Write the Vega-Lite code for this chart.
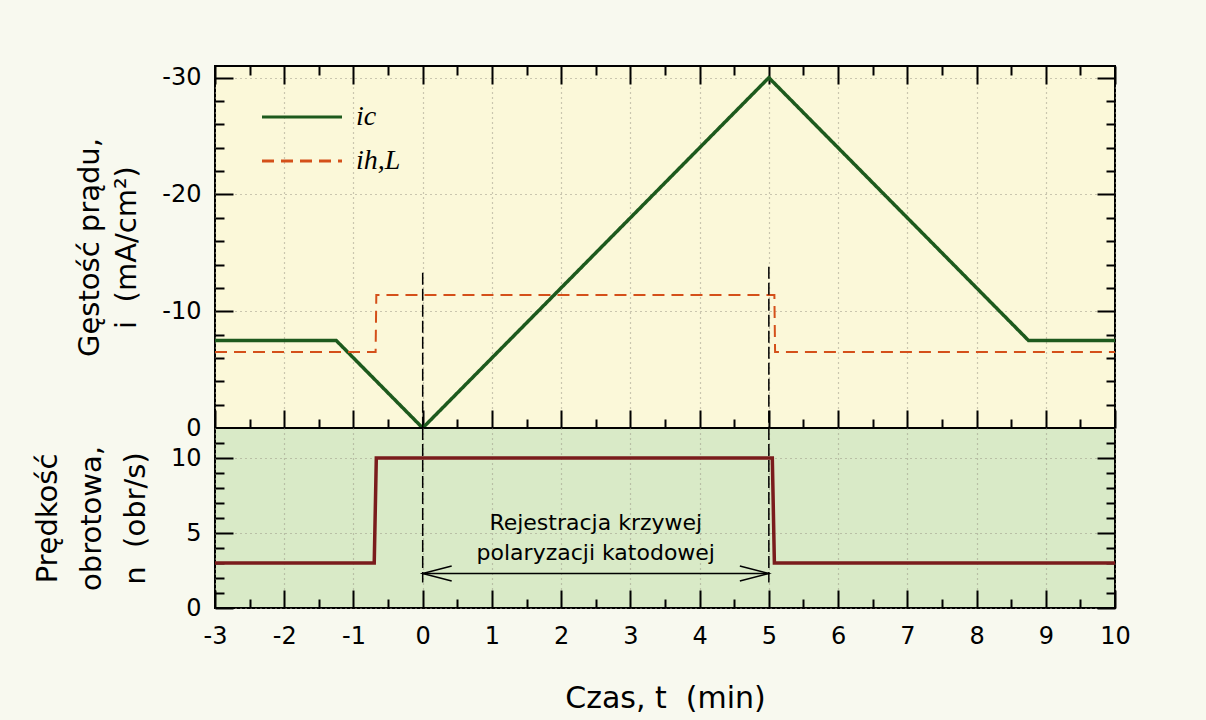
{
  "$schema": "https://vega.github.io/schema/vega-lite/v6.json",
  "background": "#f8f9ef",
  "padding": {"left": 32, "top": 64, "right": 100, "bottom": 10},
  "spacing": 0,
  "bounds": "flush",
  "datasets": {
    "cur": [
      {"t": -3, "i": -7.5, "s": "ic", "k": 1},
      {"t": -1.25, "i": -7.5, "s": "ic", "k": 2},
      {"t": 0, "i": 0, "s": "ic", "k": 3},
      {"t": 5, "i": -30, "s": "ic", "k": 4},
      {"t": 8.75, "i": -7.5, "s": "ic", "k": 5},
      {"t": 10, "i": -7.5, "s": "ic", "k": 6},
      {"t": -3, "i": -6.5, "s": "ih,L", "k": 1},
      {"t": -0.68, "i": -6.5, "s": "ih,L", "k": 2},
      {"t": -0.67, "i": -11.4, "s": "ih,L", "k": 3},
      {"t": 5.08, "i": -11.4, "s": "ih,L", "k": 4},
      {"t": 5.09, "i": -6.5, "s": "ih,L", "k": 5},
      {"t": 10, "i": -6.5, "s": "ih,L", "k": 6}
    ],
    "rot": [
      {"t": -3, "n": 3.0, "k": 1},
      {"t": -0.7, "n": 3.0, "k": 2},
      {"t": -0.67, "n": 10, "k": 3},
      {"t": 5.05, "n": 10, "k": 4},
      {"t": 5.08, "n": 3.0, "k": 5},
      {"t": 10, "n": 3.0, "k": 6}
    ],
    "vt": [
      {"t": 0, "a": -13.3, "b": 0},
      {"t": 5, "a": -13.8, "b": 0}
    ],
    "vb": [
      {"t": 0, "a": 12, "b": 1.7},
      {"t": 5, "a": 12, "b": 1.7}
    ],
    "arrow": [{"t": 0, "t2": 5, "n": 2.3}],
    "heads": [
      {"t": 0, "n": 2.3, "dir": "L"},
      {"t": 5, "n": 2.3, "dir": "R"}
    ],
    "ann": [
      {"t": 2.5, "n": 5.66, "txt": "Rejestracja krzywej"},
      {"t": 2.5, "n": 3.67, "txt": "polaryzacji katodowej"}
    ]
  },
  "resolve": {
    "scale": {"x": "independent", "y": "independent", "color": "independent", "strokeDash": "independent"},
    "legend": {"color": "independent", "strokeDash": "independent"}
  },
  "vconcat": [
    {
      "width": 900,
      "height": 362,
      "view": {"fill": "#fbf8d9", "stroke": "#000000", "strokeWidth": 2},
      "resolve": {"axis": {"x": "independent", "y": "independent"}},
      "layer": [
        {
          "data": {"name": "cur"},
          "mark": {"type": "line", "clip": true},
          "encoding": {
            "x": {"field": "t", "type": "quantitative",
              "scale": {"domain": [-3, 10], "nice": false, "zero": false},
              "axis": {"orient": "bottom", "values": [-3,-2,-1,0,1,2,3,4,5,6,7,8,9,10], "labels": false, "tickSize": -18, "grid": true, "title": null}},
            "y": {"field": "i", "type": "quantitative",
              "scale": {"domain": [-31, 0], "nice": false, "zero": false, "reverse": true},
              "axis": {"orient": "left", "values": [-30, -20, -10, 0], "ticks": false, "grid": true, "labelPadding": 14, "labelExpr": "'' + datum.value",
                "title": ["Gęstość prądu,", "i\u00a0\u00a0(mA/cm²)"], "titlePadding": 20, "titleLineHeight": 37}},
            "order": {"field": "k", "type": "quantitative"},
            "color": {"field": "s", "type": "nominal",
              "scale": {"domain": ["ic", "ih,L"], "range": ["#1d5a1d", "#d4501a"]},
              "legend": {"orient": "top-left", "offset": 37, "padding": 0, "title": null,
                "symbolType": "M-0.4,0H7.6", "symbolSize": 400, "symbolStrokeWidth": 3,
                "labelFont": "Liberation Serif", "labelFontStyle": "italic", "labelFontSize": 28,
                "labelOffset": 76, "rowPadding": 16, "labelColor": "#000000"}},
            "strokeDash": {"field": "s", "type": "nominal",
              "scale": {"domain": ["ic", "ih,L"], "range": [[1, 0], [12, 7]]},
              "legend": {"orient": "top-left", "offset": 37, "padding": 0, "title": null,
                "symbolType": "M-0.4,0H7.6", "symbolSize": 400, "symbolStrokeWidth": 3,
                "labelFont": "Liberation Serif", "labelFontStyle": "italic", "labelFontSize": 28,
                "labelOffset": 76, "rowPadding": 16, "labelColor": "#000000"}},
            "strokeWidth": {"condition": {"test": "datum.s == 'ic'", "value": 3.5}, "value": 2}
          }
        },
        {
          "data": {"name": "cur"},
          "mark": {"type": "point", "opacity": 0},
          "encoding": {
            "x": {"field": "t", "type": "quantitative",
              "scale": {"domain": [-3, 10], "nice": false, "zero": false},
              "axis": {"orient": "bottom", "values": [-2.5,-1.5,-0.5,0.5,1.5,2.5,3.5,4.5,5.5,6.5,7.5,8.5,9.5], "labels": false, "tickSize": -9, "grid": false, "title": null}},
            "y": {"field": "i", "type": "quantitative",
              "scale": {"domain": [-31, 0], "nice": false, "zero": false, "reverse": true},
              "axis": {"orient": "left", "values": [-30, -20, -10, 0], "labels": false, "tickSize": -18, "grid": false, "title": null}}
          }
        },
        {
          "data": {"name": "cur"},
          "mark": {"type": "point", "opacity": 0},
          "encoding": {
            "x": {"field": "t", "type": "quantitative",
              "scale": {"domain": [-3, 10], "nice": false, "zero": false},
              "axis": {"orient": "top", "values": [-3,-2,-1,0,1,2,3,4,5,6,7,8,9,10], "labels": false, "tickSize": -18, "grid": false, "title": null}},
            "y": {"field": "i", "type": "quantitative",
              "scale": {"domain": [-31, 0], "nice": false, "zero": false, "reverse": true},
              "axis": {"orient": "left", "values": [-28, -26, -24, -22, -18, -16, -14, -12, -8, -6, -4, -2], "labels": false, "tickSize": -9, "grid": false, "title": null}}
          }
        },
        {
          "data": {"name": "cur"},
          "mark": {"type": "point", "opacity": 0},
          "encoding": {
            "x": {"field": "t", "type": "quantitative",
              "scale": {"domain": [-3, 10], "nice": false, "zero": false},
              "axis": {"orient": "top", "values": [-2.5,-1.5,-0.5,0.5,1.5,2.5,3.5,4.5,5.5,6.5,7.5,8.5,9.5], "labels": false, "tickSize": -9, "grid": false, "title": null}},
            "y": {"field": "i", "type": "quantitative",
              "scale": {"domain": [-31, 0], "nice": false, "zero": false, "reverse": true},
              "axis": {"orient": "right", "values": [-30, -20, -10, 0], "labels": false, "tickSize": -18, "grid": false, "title": null}}
          }
        },
        {
          "data": {"name": "vt"},
          "mark": {"type": "rule", "color": "#000000", "strokeWidth": 1.5, "strokeDash": [12, 4]},
          "encoding": {
            "x": {"field": "t", "type": "quantitative",
              "scale": {"domain": [-3, 10], "nice": false, "zero": false}, "axis": null},
            "y": {"field": "a", "type": "quantitative",
              "scale": {"domain": [-31, 0], "nice": false, "zero": false, "reverse": true},
              "axis": {"orient": "right", "values": [-28, -26, -24, -22, -18, -16, -14, -12, -8, -6, -4, -2], "labels": false, "tickSize": -9, "grid": false, "title": null}},
            "y2": {"field": "b"}
          }
        }
      ]
    },
    {
      "width": 900,
      "height": 180,
      "view": {"fill": "#d9eac7", "stroke": "#000000", "strokeWidth": 2},
      "resolve": {"axis": {"x": "independent", "y": "independent"}},
      "layer": [
        {
          "data": {"name": "rot"},
          "mark": {"type": "line", "color": "#7a1c1c", "strokeWidth": 3.5},
          "encoding": {
            "x": {"field": "t", "type": "quantitative",
              "scale": {"domain": [-3, 10], "nice": false, "zero": false},
              "axis": {"orient": "bottom", "values": [-3,-2,-1,0,1,2,3,4,5,6,7,8,9,10], "ticks": false, "grid": true, "labelPadding": 16, "labelFlush": false, "labelOverlap": false, "labelExpr": "'' + datum.value",
                "title": "Czas, t\u00a0\u00a0(min)", "titlePadding": 35, "titleFontSize": 30}},
            "y": {"field": "n", "type": "quantitative",
              "scale": {"domain": [0, 12], "nice": false, "zero": false},
              "axis": {"orient": "left", "values": [0, 5, 10], "ticks": false, "grid": true, "labelPadding": 14,
                "title": ["Prędkość", "obrotowa,", "n\u00a0\u00a0(obr/s)"], "titlePadding": 20, "titleLineHeight": 44}},
            "order": {"field": "k", "type": "quantitative"}
          }
        },
        {
          "data": {"name": "rot"},
          "mark": {"type": "point", "opacity": 0},
          "encoding": {
            "x": {"field": "t", "type": "quantitative",
              "scale": {"domain": [-3, 10], "nice": false, "zero": false},
              "axis": {"orient": "bottom", "values": [-3,-2,-1,0,1,2,3,4,5,6,7,8,9,10], "labels": false, "tickSize": -18, "grid": false, "title": null}},
            "y": {"field": "n", "type": "quantitative",
              "scale": {"domain": [0, 12], "nice": false, "zero": false},
              "axis": {"orient": "left", "values": [0, 5, 10], "labels": false, "tickSize": -18, "grid": false, "title": null}}
          }
        },
        {
          "data": {"name": "rot"},
          "mark": {"type": "point", "opacity": 0},
          "encoding": {
            "x": {"field": "t", "type": "quantitative",
              "scale": {"domain": [-3, 10], "nice": false, "zero": false},
              "axis": {"orient": "bottom", "values": [-2.5,-1.5,-0.5,0.5,1.5,2.5,3.5,4.5,5.5,6.5,7.5,8.5,9.5], "labels": false, "tickSize": -9, "grid": false, "title": null}},
            "y": {"field": "n", "type": "quantitative",
              "scale": {"domain": [0, 12], "nice": false, "zero": false},
              "axis": {"orient": "left", "values": [1, 2, 3, 4, 6, 7, 8, 9, 11], "labels": false, "tickSize": -9, "grid": false, "title": null}}
          }
        },
        {
          "data": {"name": "vb"},
          "mark": {"type": "rule", "color": "#000000", "strokeWidth": 1.5, "strokeDash": [12, 4]},
          "encoding": {
            "x": {"field": "t", "type": "quantitative",
              "scale": {"domain": [-3, 10], "nice": false, "zero": false}, "axis": null},
            "y": {"field": "a", "type": "quantitative",
              "scale": {"domain": [0, 12], "nice": false, "zero": false},
              "axis": {"orient": "right", "values": [0, 5, 10], "labels": false, "tickSize": -18, "grid": false, "title": null}},
            "y2": {"field": "b"}
          }
        },
        {
          "data": {"name": "arrow"},
          "mark": {"type": "rule", "color": "#000000", "strokeWidth": 1.5},
          "encoding": {
            "x": {"field": "t", "type": "quantitative",
              "scale": {"domain": [-3, 10], "nice": false, "zero": false}, "axis": null},
            "x2": {"field": "t2"},
            "y": {"field": "n", "type": "quantitative",
              "scale": {"domain": [0, 12], "nice": false, "zero": false},
              "axis": {"orient": "right", "values": [1, 2, 3, 4, 6, 7, 8, 9, 11], "labels": false, "tickSize": -9, "grid": false, "title": null}}
          }
        },
        {
          "data": {"name": "heads"},
          "mark": {"type": "point", "filled": false, "stroke": "#000000", "strokeWidth": 1.5, "size": 3364, "opacity": 1},
          "encoding": {
            "x": {"field": "t", "type": "quantitative",
              "scale": {"domain": [-3, 10], "nice": false, "zero": false}, "axis": null},
            "y": {"field": "n", "type": "quantitative",
              "scale": {"domain": [0, 12], "nice": false, "zero": false}, "axis": null},
            "shape": {"field": "dir", "type": "nominal",
              "scale": {"domain": ["L", "R"], "range": ["M1,-0.26L0,0L1,0.26", "M-1,-0.26L0,0L-1,0.26"]},
              "legend": null}
          }
        },
        {
          "data": {"name": "ann"},
          "mark": {"type": "text", "font": "DejaVu Sans", "fontSize": 22, "color": "#000000", "align": "center", "baseline": "middle"},
          "encoding": {
            "x": {"field": "t", "type": "quantitative",
              "scale": {"domain": [-3, 10], "nice": false, "zero": false}, "axis": null},
            "y": {"field": "n", "type": "quantitative",
              "scale": {"domain": [0, 12], "nice": false, "zero": false}, "axis": null},
            "text": {"field": "txt"}
          }
        }
      ]
    }
  ],
  "config": {
    "axis": {
      "domain": false,
      "labelFont": "DejaVu Sans",
      "labelFontSize": 24,
      "labelColor": "#000000",
      "tickColor": "#000000",
      "tickWidth": 2,
      "titleFont": "DejaVu Sans",
      "titleFontSize": 29,
      "titleFontWeight": "normal",
      "titleColor": "#000000",
      "gridColor": "#9a9486",
      "gridDash": [1, 4],
      "gridWidth": 1.2
    }
  }
}
